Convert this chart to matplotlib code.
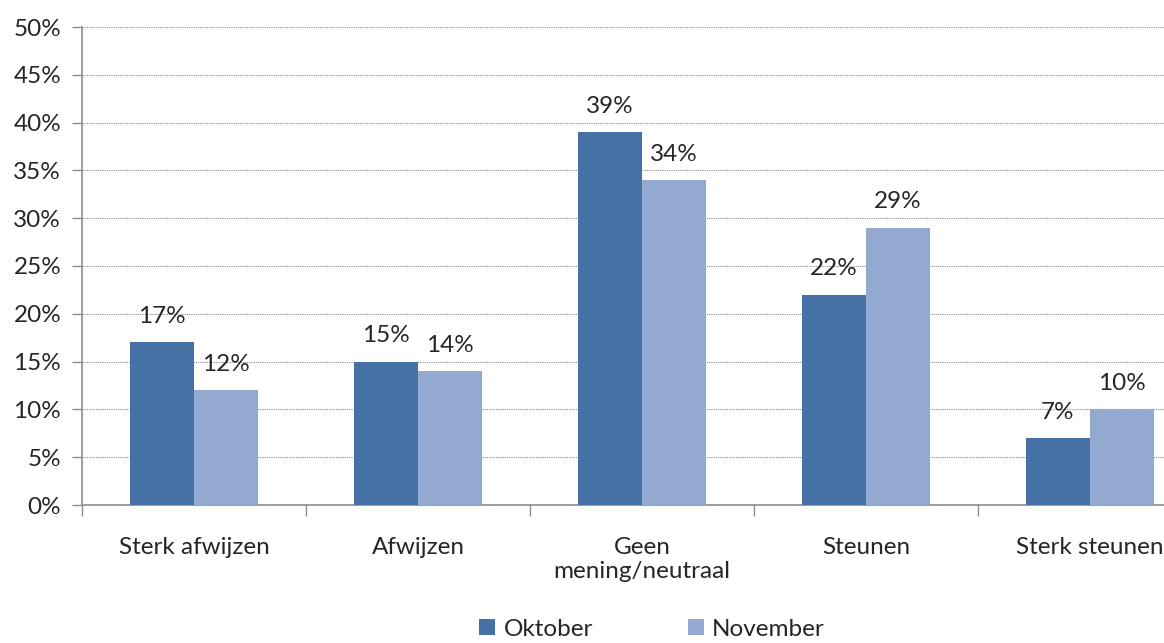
import numpy as np
import matplotlib
matplotlib.use("Agg")
import matplotlib.pyplot as plt
from matplotlib.ticker import MultipleLocator, FixedLocator

# --- Data ---
categories = ["Sterk afwijzen", "Afwijzen", "Geen\nmening/neutraal", "Steunen", "Sterk steunen"]
oktober = [17, 15, 39, 22, 7]
november = [12, 14, 34, 29, 10]
series_names = ["Oktober", "November"]

# --- Style ---
COLOR_OKT = "#4571A5"
COLOR_NOV = "#94A9D0"
AXIS_GRAY = "#8C8C8C"
TEXT_COLOR = "#262626"
FS = 17.5
plt.rcParams['font.family'] = ['Lato', 'DejaVu Sans']

W, H = 1164, 643
fig = plt.figure(figsize=(W / 100, H / 100), dpi=100)
ax = fig.add_axes([82 / W, (H - 505) / H, 1120 / W, 478 / H])

x = np.arange(len(categories))
bar_w = 0.286
b1 = ax.bar(x - bar_w / 2, oktober, bar_w, color=COLOR_OKT, zorder=3, label=series_names[0])
b2 = ax.bar(x + bar_w / 2, november, bar_w, color=COLOR_NOV, zorder=3, label=series_names[1])

# value labels above bars
for bars, vals in [(b1, oktober), (b2, november)]:
    for rect, v in zip(bars, vals):
        ax.annotate(f"{v}%", xy=(rect.get_x() + rect.get_width() / 2, v),
                    xytext=(0, 11), textcoords="offset points",
                    ha="center", va="bottom", fontsize=FS, color=TEXT_COLOR)

ax.set_xlim(-0.5, len(categories) - 0.5)
ax.set_ylim(0, 50)
ax.yaxis.set_major_locator(MultipleLocator(5))
ax.set_yticklabels([f"{int(t)}%" for t in ax.get_yticks()])
ax.grid(axis="y", linestyle=(0, (1, 1)), color="#8A8A8A", linewidth=0.8, zorder=0)

# category labels centred, ticks at category boundaries
ax.set_xticks(x)
ax.set_xticklabels(categories, fontsize=FS, color=TEXT_COLOR, linespacing=1.2)
ax.tick_params(axis="x", length=0, pad=23)
ax.xaxis.set_minor_locator(FixedLocator(np.arange(-0.5, len(categories), 1.0)))
ax.tick_params(axis="x", which="minor", length=8, color=AXIS_GRAY, width=1)
ax.tick_params(axis="y", length=7, color=AXIS_GRAY, width=1, labelsize=FS,
               labelcolor=TEXT_COLOR, pad=8)

for side in ["top", "right"]:
    ax.spines[side].set_visible(False)
for side in ["left", "bottom"]:
    ax.spines[side].set_color(AXIS_GRAY)
    ax.spines[side].set_linewidth(1.2)

fig.legend(handles=[b1, b2], labels=series_names, loc="center",
           bbox_to_anchor=(652 / W, 1 - 629 / H), ncol=2, frameon=False,
           fontsize=FS, handlelength=0.65, handleheight=0.65, handletextpad=0.35,
           columnspacing=3.9, labelcolor=TEXT_COLOR)

fig.savefig("out.png", dpi=100)
